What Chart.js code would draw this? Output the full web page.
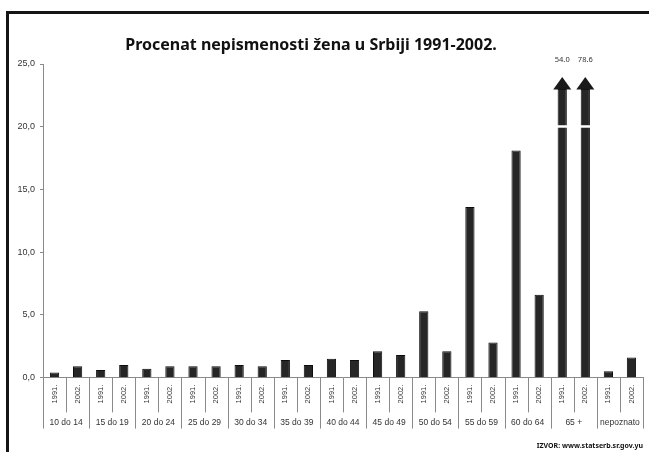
<!DOCTYPE html>
<html>
<head>
	<style type="text/css">
	body{
		margin: 0;
		background: #fff;
		font-family: Arial;
	}
	#wrap{
		position: relative;
		width: 649px;
		height: 452px;
		overflow: hidden;
	}
	#frame{
		position: absolute;
		left: 6px;
		top: 11px;
		width: 700px;
		height: 500px;
		border-left: 3px solid #151515;
		border-top: 3px solid #151515;
	}
	</style>
    <title>Nepismenost</title>
    <script type="text/javascript" src="https://cdn.jsdelivr.net/npm/chart.js@4.4.0/dist/chart.umd.min.js"></script>
</head>
<body>
<div id="wrap">
	<div id="frame"></div>
	<canvas id="chart"></canvas>
</div>
<script type="text/javascript">
	var groups = ['10 do 14', '15 do 19', '20 do 24', '25 do 29', '30 do 34', '35 do 39', '40 do 44',
		'45 do 49', '50 do 54', '55 do 59', '60 do 64', '65 +', 'nepoznato'];
	var years = ['1991.', '2002.'];
	var pct1991 = [0.4, 0.6, 0.7, 0.9, 1.0, 1.4, 1.5, 2.1, 5.3, 13.6, 18.1, 54.0, 0.5];
	var pct2002 = [0.9, 1.0, 0.9, 0.9, 0.9, 1.0, 1.4, 1.8, 2.1, 2.8, 6.6, 78.6, 1.6];
	var yMax = 25;
	var yStep = 5;
	var breakAt = 20;   // white cut on the bars that go off the scale
	var barCap = 23;    // those bars are drawn up to here, then an arrow

	var labels = [];
	var values = [];
	for (var i = 0; i < groups.length; ++i) {
		labels.push(years[0]);
		values.push(pct1991[i]);
		labels.push(years[1]);
		values.push(pct2002[i]);
	}

	var lineColor = '#8a8a8a';
	var textColor = '#333';
	var headFont = '"Noto Sans", "DejaVu Sans", Arial';

	// arrows + real values for the bars that don't fit, and the separators under the x axis
	var extras = {
		id: 'extras',
		afterDatasetsDraw: function (chart) {
			var ctx = chart.ctx;
			var y = chart.scales.y;
			var meta = chart.getDatasetMeta(0);
			ctx.save();
			for (var i = 0; i < values.length; ++i) {
				if (values[i] <= yMax) continue;
				var bar = meta.data[i];
				var w = bar.width;
				var top = bar.y;
				var cut = y.getPixelForValue(breakAt);
				ctx.fillStyle = '#fff';
				ctx.fillRect(bar.x - w / 2 - 1, cut - 1.5, w + 2, 2.5);
				ctx.fillStyle = '#1a1a1a';
				ctx.beginPath();
				ctx.moveTo(bar.x - 9, top + 0.5);
				ctx.lineTo(bar.x + 9, top + 0.5);
				ctx.lineTo(bar.x, top - 12);
				ctx.closePath();
				ctx.fill();
				ctx.fillStyle = textColor;
				ctx.font = '7.5px ' + headFont;
				ctx.textAlign = 'center';
				ctx.textBaseline = 'middle';
				ctx.fillText(values[i].toFixed(1), bar.x, top - 29);
			}
			ctx.restore();
		},
		afterDraw: function (chart) {
			var ctx = chart.ctx;
			var x = chart.scales.x;
			var x2 = chart.scales.x2;
			ctx.save();
			ctx.strokeStyle = lineColor;
			ctx.lineWidth = 1;
			ctx.beginPath();
			for (var i = 0; i <= labels.length; ++i) {
				var px = Math.round(x.left + (x.right - x.left) * i / labels.length) + 0.5;
				var bottom = (i % 2 === 0) ? x2.bottom - 6 : x.bottom + 2;
				ctx.moveTo(px, x.top);
				ctx.lineTo(px, bottom);
			}
			ctx.stroke();
			ctx.restore();
		}
	};

	var context = document.getElementById('chart').getContext('2d');
	var chart = new Chart(context, {
		type: 'bar',
		data: {
			labels: labels,
			datasets: [
				{
					label: 'Procenat',
					data: values.map(function (v) { return Math.min(v, barCap); }),
					backgroundColor: '#262626',
					borderColor: '#0d0d0d',
					borderWidth: 1,
					categoryPercentage: 1,
					barPercentage: 0.4
				}
			]
		},
		options: {
			responsive: true,
			maintainAspectRatio: false,
			animation: false,
			layout: {
				padding: {left: -21, right: 6, top: 0, bottom: 0}
			},
			plugins: {
				legend: {display: false},
				tooltip: {enabled: false},
				title: {
					display: true,
					text: 'Procenat nepismenosti žena u Srbiji 1991-2002.',
					color: '#111',
					font: {family: headFont, size: 16, weight: 'bold'},
					padding: {top: 36, bottom: 8.8}
				},
				subtitle: {
					display: true,
					position: 'bottom',
					align: 'end',
					text: 'IZVOR: www.statserb.sr.gov.yu',
					color: '#111',
					font: {family: headFont, size: 7, weight: 'bold'},
					padding: {top: 7.5, bottom: 1.5}
				}
			},
			scales: {
				y: {
					min: 0,
					max: yMax,
					ticks: {
						stepSize: yStep,
						color: textColor,
						padding: 5,
						font: {family: '"Liberation Sans", Arial', size: 9},
						callback: function (v) { return v.toFixed(1).replace('.', ','); }
					},
					grid: {drawOnChartArea: false, tickLength: 3, color: lineColor},
					border: {color: lineColor},
					afterFit: function (scale) { scale.width = 64; }
				},
				x: {
					weight: 0,
					grid: {display: false, drawTicks: false},
					border: {color: lineColor},
					ticks: {
						autoSkip: false,
						minRotation: 90,
						maxRotation: 90,
						padding: 7,
						color: textColor,
						font: {family: '"Liberation Sans", Arial', size: 7.5}
					}
				},
				x2: {
					type: 'category',
					position: 'bottom',
					weight: 1,
					labels: groups,
					offset: true,
					grid: {display: false, drawTicks: false},
					border: {display: false},
					ticks: {
						autoSkip: false,
						maxRotation: 0,
						padding: 7,
						color: textColor,
						font: {family: '"Liberation Sans", Arial', size: 8.5}
					}
				}
			}
		},
		plugins: [extras]
	});
</script>
</body>
</html>
